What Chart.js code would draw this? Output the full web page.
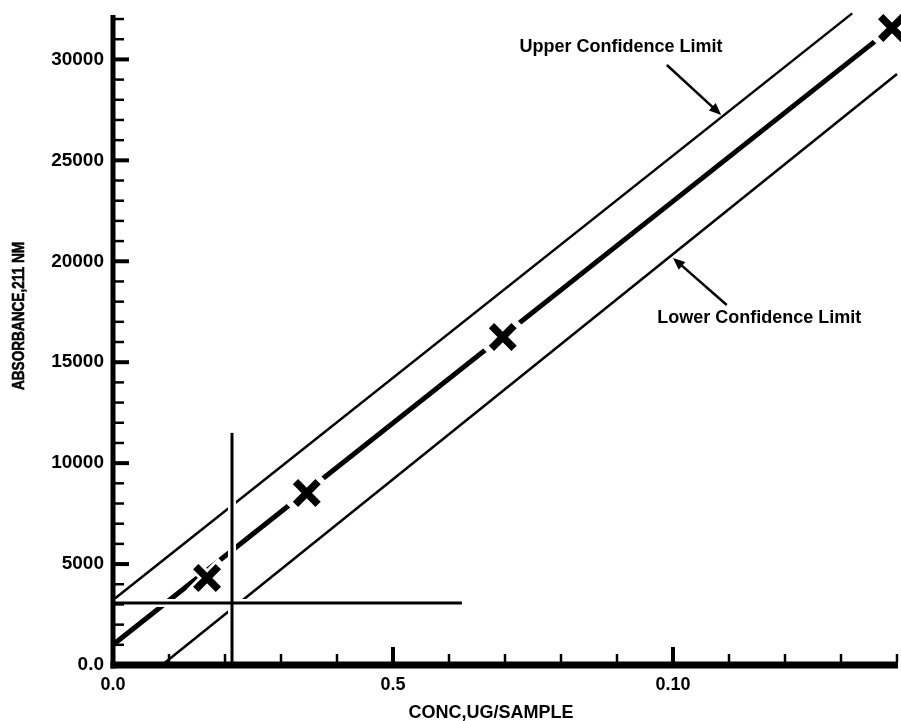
<!DOCTYPE html>
<html><head><meta charset="utf-8">
<script src="https://cdn.jsdelivr.net/npm/chart.js@4.4.1/dist/chart.umd.min.js"></script>
<style>html,body{margin:0;padding:0;background:#fff;}#wrap{width:901px;height:721px;}</style>
</head><body><div id="wrap"><canvas id="c" width="901" height="721"></canvas></div>
<script>
// ---- data ----
const standardConc = [0.0168, 0.0346, 0.0696, 0.1391];
const standardAbs  = [4310, 8520, 16250, 31560];
const regressionConc = [0, 0.14];
const regressionAbs  = [1000, 31760];
const upperConc = [0, 0.132];
const upperAbs  = [3220, 32280];
const lowerConc = [0.00875, 0.14];
const lowerAbs  = [0, 29280];
const readLineAbs = [3070, 3070];
const readLineAbsConc = [0, 0.0623];
const readLineConc = [0.02125, 0.02125];
const readLineConcAbs = [0, 11500];
const xTickValues = [0, 0.05, 0.10];
const xTickLabels = ["0.0", "0.5", "0.10"];
const xMinorTicks = [0.01,0.02,0.03,0.04,0.05,0.06,0.07,0.08,0.09,0.10,0.11,0.12,0.13,0.14];
const xMajorTicks = [0.05, 0.10];
const yTickValues = [0, 5000, 10000, 15000, 20000, 25000, 30000];
const yTickLabels = ["0.0", "5000", "10000", "15000", "20000", "25000", "30000"];
const yMinorTicks = [1000,2000,3000,4000,5000,6000,7000,8000,9000,10000,11000,12000,13000,14000,15000,16000,17000,18000,19000,20000,21000,22000,23000,24000,25000,26000,27000,28000,29000,30000,31000,32000];
const yMajorTicks = [5000,10000,15000,20000,25000,30000];
const xTitle = "CONC,UG/SAMPLE";
const yTitle = "ABSORBANCE,211 NM";
const upperLabel = "Upper Confidence Limit";
const lowerLabel = "Lower Confidence Limit";

// ---- annotation placement (data units) ----
const notes = [
  {text: upperLabel, at: [0.0907, 30616], from: [0.0989, 29724], to: [0.1086, 27250]},
  {text: lowerLabel, at: [0.1154, 17190], from: [0.1096, 17834], to: [0.1000, 20163]}
];

const pts = (xs, ys) => xs.map((v, i) => ({x: v, y: ys[i]}));
const FONT = "'Liberation Sans', Arial, sans-serif";

function seg(ctx, a, b, c, d) { ctx.beginPath(); ctx.moveTo(a, b); ctx.lineTo(c, d); ctx.stroke(); }

const axesPlugin = {
  id: 'axesDraw',
  afterDatasetsDraw(chart) {
    const {ctx, scales: {x, y}} = chart;
    const x0 = x.getPixelForValue(0), y0 = y.getPixelForValue(0);
    const yTop = y.getPixelForValue(y.max), xEnd = x.getPixelForValue(x.max);
    ctx.save();
    ctx.strokeStyle = '#000'; ctx.lineCap = 'butt';
    ctx.lineWidth = 5; seg(ctx, x0, yTop, x0, y0 + 3.5);
    ctx.lineWidth = 7; seg(ctx, x0 - 2.5, y0, xEnd + 1, y0);
    yMinorTicks.forEach(v => {
      const major = yMajorTicks.includes(v);
      const py = y.getPixelForValue(v);
      ctx.lineWidth = major ? 4 : 2.5;
      seg(ctx, x0 + 2, py, x0 + (major ? 16 : 11), py);
    });
    xMinorTicks.forEach(v => {
      const major = xMajorTicks.includes(v);
      const px = x.getPixelForValue(v);
      ctx.lineWidth = major ? 4 : 2.5;
      seg(ctx, px, y0 - 3, px, y0 - (major ? 18 : 11));
    });
    ctx.restore();
  },
  afterDraw(chart) {
    const {ctx, scales: {x, y}} = chart;
    ctx.save();
    ctx.fillStyle = '#000'; ctx.strokeStyle = '#000';
    ctx.textAlign = 'center'; ctx.textBaseline = 'middle';
    ctx.font = "bold 18px " + FONT;
    notes.forEach(n => {
      ctx.fillText(n.text, x.getPixelForValue(n.at[0]), y.getPixelForValue(n.at[1]));
      const fx = x.getPixelForValue(n.from[0]), fy = y.getPixelForValue(n.from[1]);
      const tx = x.getPixelForValue(n.to[0]), ty = y.getPixelForValue(n.to[1]);
      const ang = Math.atan2(ty - fy, tx - fx);
      const L = 12, W = 5;
      ctx.lineWidth = 2.5;
      seg(ctx, fx, fy, tx - Math.cos(ang) * 6, ty - Math.sin(ang) * 6);
      ctx.beginPath();
      ctx.moveTo(tx, ty);
      ctx.lineTo(tx - Math.cos(ang) * L + Math.sin(ang) * W, ty - Math.sin(ang) * L - Math.cos(ang) * W);
      ctx.lineTo(tx - Math.cos(ang) * L - Math.sin(ang) * W, ty - Math.sin(ang) * L + Math.cos(ang) * W);
      ctx.closePath(); ctx.fill();
    });
    // axis titles
    ctx.font = "bold 18px " + FONT;
    ctx.fillText(xTitle, 491, 713);
    ctx.translate(19, 316);
    ctx.rotate(-Math.PI / 2);
    ctx.scale(0.8, 1);
    ctx.font = "bold 17px " + FONT;
    ctx.lineWidth = 0.6;
    ctx.fillText(yTitle, 0, 0);
    ctx.strokeText(yTitle, 0, 0);
    ctx.restore();
  }
};

const lineDs = (data, width, color, order) => ({
  data, showLine: true, borderColor: color, borderWidth: width, pointRadius: 0,
  pointHoverRadius: 0, fill: false, tension: 0, clip: false, order, borderCapStyle: 'butt'
});

const noPad = s => { s.paddingTop = 0; s.paddingBottom = 0; s.paddingLeft = 0; s.paddingRight = 0; };

new Chart(document.getElementById('c'), {
  type: 'scatter',
  data: {
    datasets: [
      {data: pts(standardConc, standardAbs), pointStyle: 'crossRot', pointRadius: 16, pointBorderWidth: 7.5,
       pointBorderColor: '#000', pointBackgroundColor: '#000', showLine: false, clip: false, order: 1},
      {data: pts(standardConc, standardAbs), pointStyle: 'crossRot', pointRadius: 22, pointBorderWidth: 13,
       pointBorderColor: '#fff', pointBackgroundColor: '#fff', showLine: false, clip: false, order: 2},
      lineDs(pts(readLineAbsConc, readLineAbs), 3, '#000', 3),
      lineDs(pts(readLineConc, readLineConcAbs), 3, '#000', 3),
      lineDs(pts(readLineAbsConc, readLineAbs), 8, '#fff', 4),
      lineDs(pts(readLineConc, readLineConcAbs), 8, '#fff', 4),
      lineDs(pts(regressionConc, regressionAbs), 5, '#000', 5),
      lineDs(pts(upperConc, upperAbs), 2.5, '#000', 6),
      lineDs(pts(lowerConc, lowerAbs), 2.5, '#000', 6)
    ]
  },
  options: {
    responsive: false, animation: false, events: [],
    layout: {autoPadding: false, padding: {top: 15, right: 4, left: 0, bottom: 0}},
    plugins: {legend: {display: false}, tooltip: {enabled: false}},
    scales: {
      x: {
        type: 'linear', min: 0, max: 0.14,
        afterBuildTicks: s => { s.ticks = xTickValues.map(v => ({value: v})); },
        afterFit: s => { s.height = 56; noPad(s); },
        grid: {display: false, drawTicks: false}, border: {display: false},
        ticks: {callback: v => xTickLabels[xTickValues.indexOf(v)], autoSkip: false, maxRotation: 0,
                font: {family: FONT, weight: 'bold', size: 18}, color: '#000', padding: 9}
      },
      y: {
        type: 'linear', min: 0, max: 32200,
        afterBuildTicks: s => { s.ticks = yTickValues.map(v => ({value: v})); },
        afterFit: s => { s.width = 113; noPad(s); },
        grid: {display: false, drawTicks: false}, border: {display: false},
        ticks: {callback: v => yTickLabels[yTickValues.indexOf(v)], autoSkip: false,
                font: {family: FONT, weight: 'bold', size: 19}, color: '#000', padding: 9}
      }
    }
  },
  plugins: [axesPlugin]
});
</script></body></html>
